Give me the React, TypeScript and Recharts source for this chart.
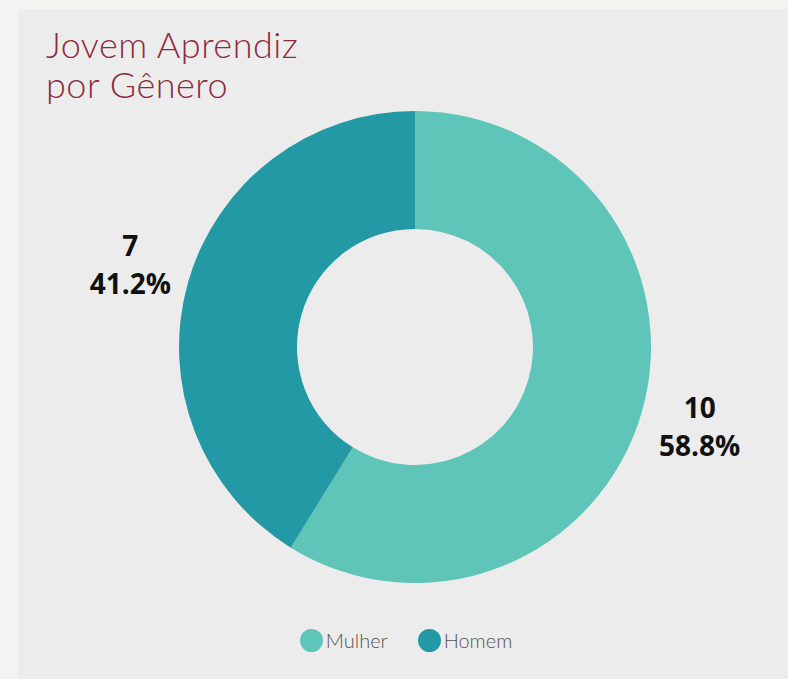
import { Cell, Pie, PieChart } from "recharts";

const categories = ["Mulher", "Homem"];
const counts = [10, 7];
const COLORS = ["#5EC5B8", "#2399A6"];

const data = categories.map((name, i) => ({ name, value: counts[i] }));
const total = counts.reduce((a, b) => a + b, 0);

const RADIAN = Math.PI / 180;

function renderLabel(props: any) {
    const { cx, cy, midAngle, outerRadius, value } = props;
    const r = outerRadius + 60;
    const x = cx + r * Math.cos(-midAngle * RADIAN);
    const y = cy + r * Math.sin(-midAngle * RADIAN);
    const pct = ((value / total) * 100).toFixed(1) + "%";
    return (
        <text
            x={x}
            y={y}
            textAnchor="middle"
            fill="#111"
            fontFamily="'Open Sans', sans-serif"
            fontWeight={700}
            fontSize={28}
        >
            <tspan x={x} dy={-10}>{value}</tspan>
            <tspan x={x} dy={38}>{pct}</tspan>
        </text>
    );
}

export default function App() {
    return (
        <div style={{ position: "absolute", left: 0, top: 0, width: 788, height: 679, background: "#F3F3F2" }}>
            <div style={{ position: "absolute", left: 18, top: 9, width: 770, height: 670, background: "#ECECEC" }} />
            <div
                style={{
                    position: "absolute",
                    left: 46,
                    top: 24,
                    color: "#8F2A3C",
                    fontFamily: "Lato, sans-serif",
                    fontWeight: 300,
                    fontSize: 36,
                    lineHeight: "40px",
                    letterSpacing: 0.5,
                }}
            >
                Jovem Aprendiz
                <br />
                por Gênero
            </div>
            <div style={{ position: "absolute", left: 0, top: 0 }}>
                <PieChart width={788} height={679} margin={{ top: 0, right: 0, bottom: 0, left: 0 }}>
                    <Pie
                        data={data}
                        cx={415}
                        cy={347}
                        innerRadius={118}
                        outerRadius={236}
                        startAngle={90}
                        endAngle={-270}
                        dataKey="value"
                        stroke="none"
                        label={renderLabel}
                        labelLine={false}
                        isAnimationActive={false}
                    >
                        {data.map((_, index) => (
                            <Cell key={index} fill={COLORS[index % COLORS.length]} />
                        ))}
                    </Pie>
                </PieChart>
            </div>
            <div
                style={{
                    position: "absolute",
                    left: 0,
                    top: 628,
                    width: 788,
                    display: "flex",
                    justifyContent: "center",
                    gap: 30,
                    fontFamily: "Lato, sans-serif",
                    fontWeight: 300,
                    fontSize: 20,
                    color: "#555",
                    paddingLeft: 24,
                    boxSizing: "border-box",
                }}
            >
                {data.map((d, i) => (
                    <div key={d.name} style={{ display: "flex", alignItems: "center" }}>
                        <span style={{ width: 23, height: 23, borderRadius: 12, background: COLORS[i], display: "inline-block", marginRight: 3 }} />
                        <span>{d.name}</span>
                    </div>
                ))}
            </div>
        </div>
    );
}
